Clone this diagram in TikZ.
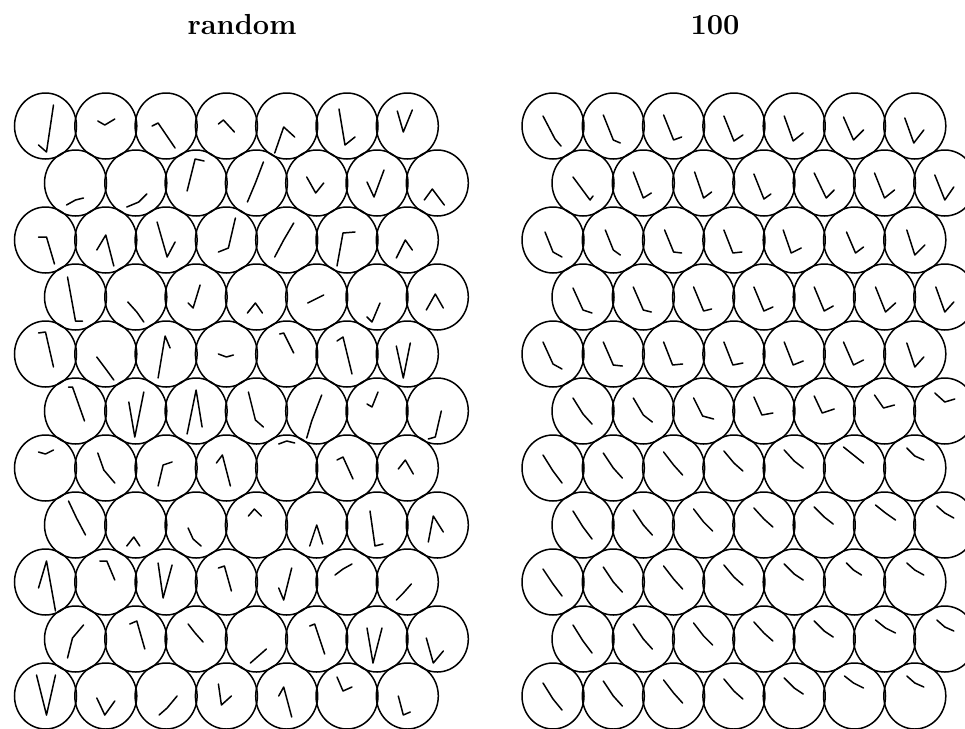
\documentclass[tikz,border=0pt]{standalone}
\usepackage{fontspec}
\tikzset{
  cell/.style={draw, line width=1.5pt},
  arm/.style={draw, line width=1.5pt, line join=round, line cap=round},
  maptitle/.style={font=\fontsize{29}{34}\selectfont\bfseries, anchor=base}
}
% #1 = x of the first centre, #2 = rows of arms (three points each)
\newcommand\drawmap[2]{%
    \foreach \r/\cells in {#2}
    {
        \foreach \ax/\ay/\bx/\by/\ex/\ey [count=\c] in \cells
        {
            \pgfmathsetmacro\px{#1 + 60.3*(\c-1) + 30*mod(\r+1,2)}
            \pgfmathsetmacro\py{126 + 57*(\r-1)}
            \draw[cell] (\px,\py) ellipse [x radius=31pt, y radius=33pt];
            \draw[arm, shift={(\px,\py)}] (\ax,\ay) -- (\bx,\by) -- (\ex,\ey);
        }
    }
}
\begin{document}
\begin{tikzpicture}[x=1pt, y=-1pt]
\useasboundingbox (0,0) rectangle (965,728);
\clip (0,0) rectangle (965,728);
\node[maptitle] (random) at (242,34) {random};
\node[maptitle] (iter) at (715,34) {100};
\drawmap{45.5}{
    1/{-7/19/1/26/8/-21, -8/-5/-1/-1/9/-7, -14/0/-8/-3/9/22, -8/-2/-3/-6/8/6,
       -12/27/-3/1/8/11, -8/-17/-2/19/8/11, -10/-15/-4/6/5/-16},
    2/{-9/22/0/17/8/15, -9/24/3/19/11/11, -9/8/-1/-24/8/-22, -9/19/-1/0/7/-21,
       -10/-6/-1/10/7/0, -10/-1/-3/14/7/-13, -13/17/-5/6/7/22},
    3/{-7/-3/1/-3/9/24, -9/10/0/-5/8/26, -9/-18/1/17/9/2, 9/-22/2/8/-8/12,
       -12/17/-3/0/7/-17, -10/26/-4/-7/8/-8, -11/18/-2/0/5/10},
    4/{-8/-20/0/24/7/24, -8/5/1/15/8/25, -8/6/-3/11/4/-12, -9/16/-1/6/6/16,
       -9/6/-1/2/7/-2, -10/20/-5/25/3/6, -11/13/-2/-3/6/11},
    5/{-7/-21/0/-22/8/13, -9/3/0/15/8/26, -8/24/-1/-18/4/-6, -8/0/0/3/7/1,
       -7/-20/-3/-21/7/-1, -10/-13/-4/-17/5/20, -11/-8/-4/24/3/-11},
    6/{-7/-24/-3/-24/9/10, -7/-9/-1/26/8/-19, -9/23/0/-21/6/16, -8/-19/-1/9/7/16,
       -10/27/-5/10/5/-16, -10/-7/-5/-4/1/-19, -9/28/-2/26/4/0},
    7/{-7/-16/0/-14/8/-18, -8/-15/-2/2/9/15, -8/18/-3/-3/6/-6, -10/-5/-4/-13/4/18,
       -8/-24/0/-27/8/-25, -10/-8/-4/-11/6/11, -9/1/-2/-8/6/6},
    8/{-7/-24/1/-7/10/10, -9/21/-2/12/4/21, -8/3/-3/14/5/21, -8/-9/-2/-16/5/-9,
       -7/21/0/0/6/19, -7/-14/-2/21/6/19, -9/17/-4/-9/6/7},
    9/{-7/6/1/-21/10/29, -6/-21/1/-21/9/-2, -8/-19/-3/16/6/-17, -8/-14/-2/-16/5/9,
       -8/6/-3/18/5/-14, -12/-7/-4/-13/5/-18, -11/18/-4/11/4/2},
    10/{-8/19/-3/-1/8/-14, -6/-15/1/-18/9/10, -8/-15/-1/-6/7/3, -6/24/2/17/10/10,
       -7/-13/-2/-15/8/15, -10/-11/-4/24/5/-11, -11/-1/-4/24/6/12},
    11/{-9/-21/1/19/10/-21, -9/2/-1/19/9/5, -7/19/1/12/11/0, -8/-12/-5/9/5/0,
       -8/0/-3/-9/5/21, -10/-19/-4/-5/5/-9, -9/0/-4/19/3/16}}
\drawmap{553}{
    1/{-10/-10/2/13/8/20, -10/-11/0/14/7/17, -10/-11/0/14/8/11, -10/-10/0/15/9/9,
       -10/-10/-1/15/9/7, -11/-9/-1/14/9/4, -10/-8/-1/17/9/4},
    2/{-10/-6/7/17/10/13, -10/-11/0/15/8/10, -9/-11/0/15/8/9, -10/-9/0/16/7/11,
       -10/-10/2/15/10/7, -10/-10/0/15/10/7, -10/-8/0/17/9/4},
    3/{-8/-8/0/12/9/17, -8/-10/0/10/7/15, -9/-10/0/12/8/13, -10/-10/-1/13/8/12,
       -11/-10/-3/13/7/8, -8/-8/1/13/9/7, -8/-10/0/15/10/5},
    4/{-10/-9/0/13/9/16, -10/-10/0/13/8/15, -10/-10/0/14/8/12, -10/-10/0/14/9/10,
       -10/-10/0/14/9/9, -9/-10/1/15/11/6, -9/-10/0/15/9/5},
    5/{-10/-12/0/10/9/15, -10/-12/0/11/9/12, -10/-12/-1/11/9/10, -10/-12/-1/11/9/9,
       -10/-12/-1/11/9/7, -11/-12/-1/11/9/6, -8/-11/0/13/9/3},
    6/{-10/-13/0/3/9/13, -10/-13/0/4/9/11, -10/-13/-1/5/10/8, -10/-14/-2/4/9/2,
       -10/-15/-2/2/10/-2, -10/-16/-1/-3/10/-6, -10/-18/0/-9/10/-12},
    7/{-10/-13/0/3/9/15, -10/-15/0/0/9/10, -10/-16/0/-3/9/7, -10/-17/0/-5/9/3,
       -10/-18/0/-7/9/0, -11/-21/-1/-13/9/-5, -8/-20/0/-12/9/-8},
    8/{-10/-14/0/2/9/14, -10/-15/0/0/9/10, -10/-16/0/-3/9/6, -10/-17/0/-6/9/2,
       -10/-18/0/-8/9/-1, -9/-20/1/-12/11/-5, -8/-19/0/-12/9/-7},
    9/{-10/-13/0/2/9/14, -10/-15/0/0/9/10, -10/-16/0/-3/9/7, -10/-17/0/-5/9/3,
       -10/-18/0/-8/9/-2, -8/-19/-1/-12/7/-7, -8/-19/0/-12/9/-7},
    10/{-10/-14/0/2/9/14, -10/-15/0/0/9/10, -10/-16/0/-3/9/6, -10/-17/0/-6/9/2,
       -10/-18/0/-8/9/-2, -9/-19/1/-11/11/-6, -8/-19/0/-12/9/-8},
    11/{-10/-13/0/3/9/14, -10/-15/0/0/9/10, -10/-16/0/-3/9/7, -10/-17/0/-5/9/3,
       -10/-18/0/-8/9/-2, -10/-20/-1/-13/9/-8, -8/-20/0/-13/9/-9}}
\end{tikzpicture}
\end{document}
